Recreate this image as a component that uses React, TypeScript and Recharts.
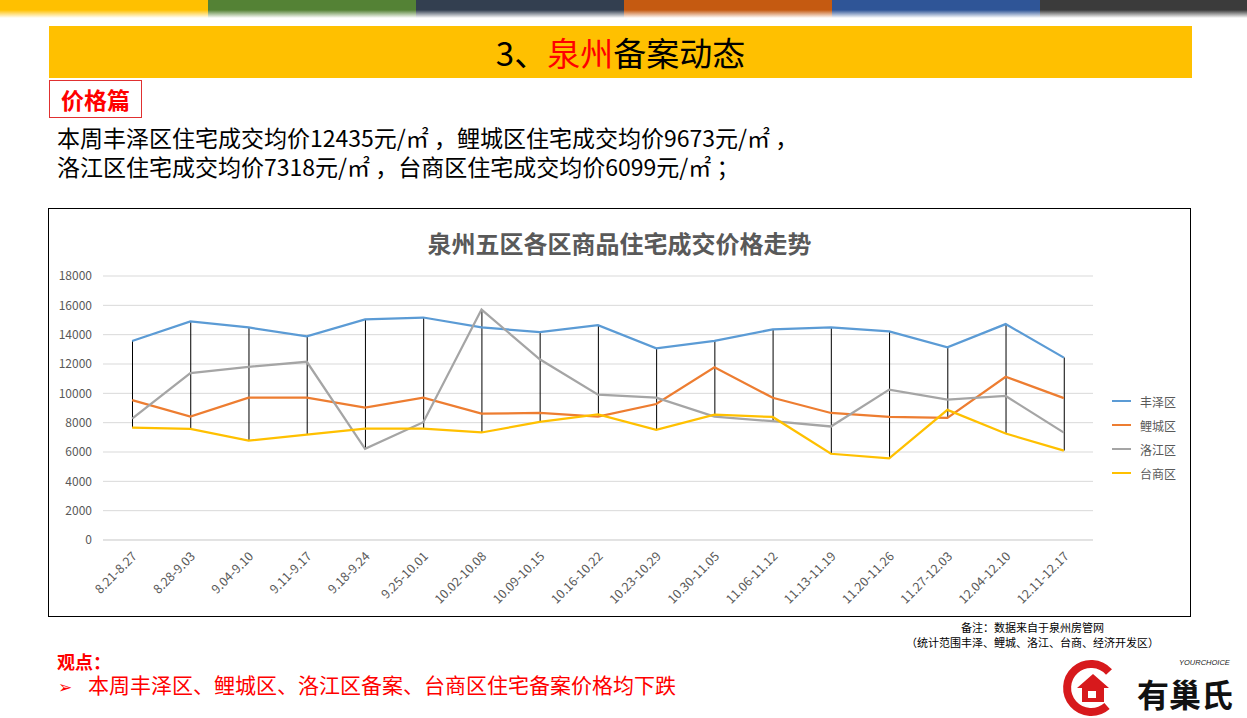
import React from "react";
import { ComposedChart, Bar, Line, XAxis, YAxis, CartesianGrid } from "recharts";

const categories = [
  "8.21-8.27", "8.28-9.03", "9.04-9.10", "9.11-9.17", "9.18-9.24", "9.25-10.01",
  "10.02-10.08", "10.09-10.15", "10.16-10.22", "10.23-10.29", "10.30-11.05",
  "11.06-11.12", "11.13-11.19", "11.20-11.26", "11.27-12.03", "12.04-12.10", "12.11-12.17",
];
const fengze = [13570, 14900, 14490, 13880, 15040, 15170, 14490, 14180, 14650, 13070, 13570, 14360, 14490, 14220, 13140, 14720, 12435];
const licheng = [9540, 8410, 9700, 9700, 9020, 9700, 8620, 8660, 8410, 9270, 11780, 9700, 8660, 8390, 8330, 11130, 9673];
const luojiang = [8280, 11380, 11810, 12150, 6220, 8030, 15710, 12320, 9910, 9700, 8410, 8100, 7740, 10250, 9570, 9820, 7318];
const taishang = [7670, 7580, 6770, 7190, 7600, 7600, 7330, 8050, 8570, 7510, 8550, 8390, 5880, 5570, 8870, 7260, 6099];
const yTicks = [0, 2000, 4000, 6000, 8000, 10000, 12000, 14000, 16000, 18000];

const series = [
  { key: "丰泽区", values: fengze, color: "#5B9BD5" },
  { key: "鲤城区", values: licheng, color: "#ED7D31" },
  { key: "洛江区", values: luojiang, color: "#A5A5A5" },
  { key: "台商区", values: taishang, color: "#FFC000" },
];

// one row per week; range = high-low line across the four districts
const rows = categories.map((name, i) => {
  const row: any = { name };
  const vals = series.map((s) => s.values[i]);
  series.forEach((s) => (row[s.key] = s.values[i]));
  row.range = [Math.min(...vals), Math.max(...vals)];
  return row;
});

const topColors = ["#FFC000", "#548235", "#333F50", "#C55A11", "#2F5597", "#3B3B3B"];
const FONT = '"Noto Sans CJK SC", "Microsoft YaHei", sans-serif';
const RED = "#FF0000";

function XTick({ x, y, payload }: any) {
  return (
    <g transform={`translate(${x},${y})`}>
      <text x={-2.5} y={0} dy={10.5} textAnchor="end" transform="rotate(-45)" fontSize={12.5} fill="#595959" fontFamily={FONT}>
        {payload.value}
      </text>
    </g>
  );
}

function LegendBox() {
  return (
    <div style={{ position: "absolute", left: 1063, top: 180, fontFamily: FONT, fontSize: 12, color: "#595959" }}>
      {series.map((s) => (
        <div key={s.key} style={{ display: "flex", alignItems: "center", height: 24 }}>
          <span style={{ display: "inline-block", width: 19, height: 2, background: s.color, marginRight: 9 }} />
          {s.key}
        </div>
      ))}
    </div>
  );
}

function Logo() {
  return (
    <svg width={190} height={62} style={{ position: "absolute", left: 1057, top: 656 }}>
      <path d="M 52 16 A 24 24 0 1 0 50 50" fill="none" stroke="#D7191C" strokeWidth={8} />
      <polygon points="20,32 36,18 52,32 47,32 47,46 25,46 25,32" fill="#D7191C" />
      <rect x={31} y={35} width={8} height={7} fill="#fff" />
      <text x={122} y={9} fontSize={7.5} fontStyle="italic" fill="#222" fontFamily="Arial, sans-serif">YOURCHOICE</text>
      <text x={80} y={51} fontSize={32} fontWeight="bold" fill="#111" fontFamily={FONT}>有巢氏</text>
    </svg>
  );
}

const bodyLine: React.CSSProperties = { position: "absolute", left: 57, fontSize: 23, lineHeight: "26px", height: 26, color: "#000", whiteSpace: "pre" };

export default function App() {
  return (
    <div style={{ position: "absolute", left: 0, top: 0, width: 1247, height: 718, background: "#fff", overflow: "hidden", fontFamily: FONT }}>
      {topColors.map((c, i) => (
        <div key={c} style={{
          position: "absolute", top: 0, left: i * 208, width: 208, height: 18,
          background: `linear-gradient(to bottom, ${c} 0px, ${c} 10px, rgba(255,255,255,0) 18px)`,
        }} />
      ))}
      <div style={{ position: "absolute", left: 49, top: 26, width: 1143, height: 52, background: "#FFC000", display: "flex", alignItems: "center", justifyContent: "center", fontSize: 33, color: "#000" }}>
        3、<span style={{ color: RED }}>泉州</span>备案动态
      </div>
      <div style={{ position: "absolute", left: 49, top: 80, width: 93, height: 38, boxSizing: "border-box", border: "1px solid #E03030", color: RED, fontWeight: "bold", fontSize: 23, display: "flex", alignItems: "center", justifyContent: "center" }}>
        价格篇
      </div>
      <div style={{ ...bodyLine, top: 124 }}>本周丰泽区住宅成交均价12435元/㎡ ，鲤城区住宅成交均价9673元/㎡ ，</div>
      <div style={{ ...bodyLine, top: 153 }}>洛江区住宅成交均价7318元/㎡ ，台商区住宅成交均价6099元/㎡ ；</div>

      <div style={{ position: "absolute", left: 48, top: 208, width: 1143, height: 409, boxSizing: "border-box", border: "1px solid #000" }}>
        <div style={{ position: "absolute", left: 0, top: 16, width: 1141, textAlign: "center", fontSize: 24, fontWeight: "bold", color: "#595959" }}>
          泉州五区各区商品住宅成交价格走势
        </div>
        <ComposedChart width={1141} height={407} data={rows} margin={{ top: 67, right: 97, bottom: 6, left: 0 }} barCategoryGap={0}>
          <CartesianGrid vertical={false} stroke="#D9D9D9" />
          <XAxis dataKey="name" interval={0} height={70} axisLine={{ stroke: "#D9D9D9" }} tickLine={false} tick={<XTick />} />
          <YAxis width={54} domain={[0, 18000]} ticks={yTicks} interval={0} axisLine={false} tickLine={false} tickMargin={5}
            tick={{ fontSize: 12, fill: "#595959", fontFamily: FONT }} />
          <Bar dataKey="range" barSize={1} fill="#000" isAnimationActive={false} legendType="none" />
          {series.map((s) => (
            <Line key={s.key} dataKey={s.key} stroke={s.color} strokeWidth={2.25} dot={false} type="linear" isAnimationActive={false} />
          ))}
        </ComposedChart>
        <LegendBox />
      </div>

      <div style={{ position: "absolute", left: 880, top: 620, width: 305, textAlign: "center", fontSize: 11, lineHeight: "15px", color: "#000" }}>
        <div>备注：数据来自于泉州房管网</div>
        <div>（统计范围丰泽、鲤城、洛江、台商、经济开发区）</div>
      </div>
      <div style={{ position: "absolute", left: 57, top: 648, color: RED, fontWeight: "bold", fontSize: 18 }}>观点：</div>
      <div style={{ position: "absolute", left: 58, top: 669, color: RED, fontSize: 21, whiteSpace: "nowrap" }}>
        <span style={{ fontSize: 17, marginRight: 16 }}>➢</span>本周丰泽区、鲤城区、洛江区备案、台商区住宅备案价格均下跌
      </div>
      <Logo />
    </div>
  );
}
